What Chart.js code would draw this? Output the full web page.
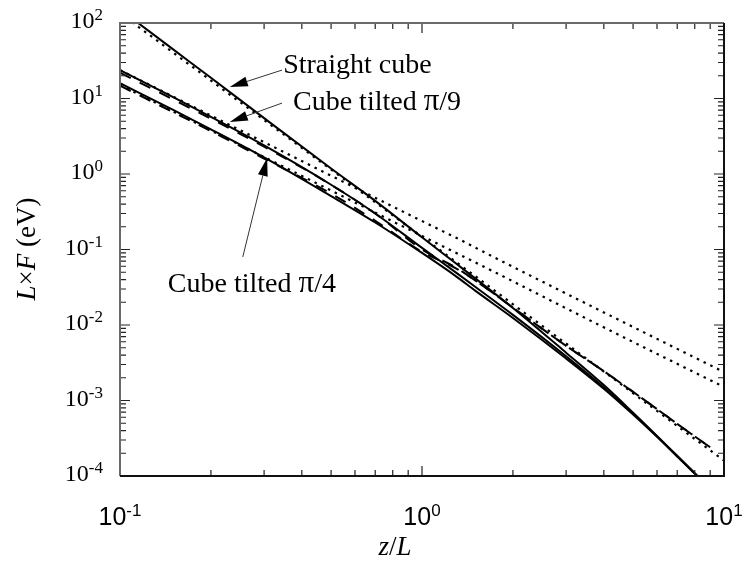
<!DOCTYPE html>
<html>
<head>
<meta charset="utf-8">
<script src="https://cdn.jsdelivr.net/npm/chart.js@4.4.1/dist/chart.umd.min.js"></script>
<style>
  html, body { margin: 0; padding: 0; background: #fff; }
</style>
</head>
<body>
<canvas id="forceChart" width="744" height="570"></canvas>
<script>
// L x F against z/L for a cube above a plate, log-log

// separations z/L for the exact curves
const zExact = [0.1, 0.15, 0.2, 0.3, 0.5, 0.7, 1, 1.3, 1.5, 2, 3, 4, 5, 6, 7, 8, 9];
const straightExact = [152, 44.7, 18.8, 5.5, 1.18, 0.44, 0.145, 0.0646, 0.0415, 0.0168, 4.3e-3, 1.6e-3, 6.9e-4, 3.4e-4, 1.85e-4, 1.09e-4, 6.7e-5];
const tilt9Exact = [23.8, 10.4, 5.71, 2.39, 0.72, 0.30, 0.105, 0.049, 0.0321, 0.0136, 3.85e-3, 1.49e-3, 6.7e-4, 3.35e-4, 1.83e-4, 1.08e-4, 6.7e-5];
const tilt4Exact = [16.0, 7.05, 3.91, 1.66, 0.51, 0.228, 0.090, 0.0438, 0.0285, 0.0124, 3.6e-3, 1.43e-3, 6.5e-4, 3.3e-4, 1.81e-4, 1.07e-4, 6.6e-5];

// dashed curves (tilted cubes)
const zDashed = [0.1, 0.2, 0.3, 0.5, 0.7, 1, 1.3, 1.5, 2, 3, 4, 5, 6, 7, 8, 9];
const tilt9Dashed = [22.0, 5.4, 2.3, 0.72, 0.3, 0.1, 0.057, 0.039, 0.017, 5.3e-3, 2.45e-3, 1.3e-3, 7.7e-4, 4.9e-4, 3.35e-4, 2.4e-4];
const tilt4Dashed = [14.8, 3.7, 1.6, 0.55, 0.24, 0.093, 0.056, 0.039, 0.017, 5.3e-3, 2.45e-3, 1.3e-3, 7.7e-4, 4.9e-4, 3.35e-4, 2.4e-4];

// dotted curves
const zDotted = [0.1, 0.3, 1, 1.34, 1.71, 4.04, 10];
const straightDotted = [135, 5.2, 0.147, 0.062, 0.030, 2.35e-3, 1.6e-4];
const tilt9Dotted = [23.8, 2.64, 0.238, 0.134, 0.081, 0.0144, 2.38e-3];
const tilt4Dotted = [15.1, 1.68, 0.151, 0.0845, 0.052, 9.12e-3, 1.51e-3];

// axis decades
const xDecades = [-1, 0, 1];
const yDecades = [-4, -3, -2, -1, 0, 1, 2];
const minorSteps = [2, 3, 4, 5, 6, 7, 8, 9];

// annotations: text baseline anchor and arrow (tail -> tip), in data units
const notes = [
  { text: ['Straight cube'], at: [0.347, 21.8], tail: [0.344, 23.8], tip: [0.231, 14.2] },
  { text: ['Cube tilted ', 'π', '/9'], at: [0.374, 7.05], tail: [0.344, 8.7], tip: [0.231, 4.89] },
  { text: ['Cube tilted ', 'π', '/4'], at: [0.144, 0.0276], tail: [0.255, 0.0796], tip: [0.307, 1.63] },
];

const SERIF = '"Liberation Serif", "Times New Roman", serif';
const SANS = '"Liberation Sans", Arial, sans-serif';

const pts = (zs, vs) => zs.map((z, i) => ({ x: z, y: vs[i] }));
const curve = (label, zs, vs, dash, width) => ({
  label: label,
  data: pts(zs, vs),
  borderColor: '#000',
  borderWidth: width || 2,
  borderDash: dash,
  pointRadius: 0,
  cubicInterpolationMode: 'monotone',
  fill: false,
  clip: 0,
});

function drawPower(ctx, exp, x, baseline, mainFont, supFont, raise, align) {
  ctx.font = mainFont;
  const w1 = ctx.measureText('10').width;
  ctx.font = supFont;
  const sup = String(exp);
  const w2 = ctx.measureText(sup).width;
  const left = align === 'center' ? x - (w1 + w2) / 2 : x - w1 - w2;
  ctx.textAlign = 'left';
  ctx.textBaseline = 'alphabetic';
  ctx.font = mainFont;
  ctx.fillText('10', left, baseline);
  ctx.font = supFont;
  ctx.fillText(sup, left + w1, baseline - raise);
}

// draws pieces [text, italic?, size] one after another
function drawRun(ctx, parts, x, y, size) {
  let cx = x;
  parts.forEach(p => {
    ctx.font = (p[1] ? 'italic ' : '') + (p[2] || size) + 'px ' + SERIF;
    ctx.fillText(p[0], cx, y);
    cx += ctx.measureText(p[0]).width;
  });
  return cx - x;
}
function runWidth(ctx, parts, size) {
  let w = 0;
  parts.forEach(p => {
    ctx.font = (p[1] ? 'italic ' : '') + (p[2] || size) + 'px ' + SERIF;
    w += ctx.measureText(p[0]).width;
  });
  return w;
}

const framePlugin = {
  id: 'framePlugin',
  afterDatasetsDraw(chart) {
    const { ctx, chartArea: a, scales: { x, y } } = chart;
    ctx.save();
    ctx.strokeStyle = '#222';
    ctx.lineWidth = 1.2;
    ctx.beginPath();
    xDecades.forEach((e, i) => {
      const base = Math.pow(10, e);
      const px = x.getPixelForValue(base);
      ctx.moveTo(px, a.bottom); ctx.lineTo(px, a.bottom - 10);
      ctx.moveTo(px, a.top); ctx.lineTo(px, a.top + 10);
      if (i < xDecades.length - 1) {
        minorSteps.forEach(m => {
          const mx = x.getPixelForValue(m * base);
          ctx.moveTo(mx, a.bottom); ctx.lineTo(mx, a.bottom - 6);
          ctx.moveTo(mx, a.top); ctx.lineTo(mx, a.top + 6);
        });
      }
    });
    yDecades.forEach((e, i) => {
      const base = Math.pow(10, e);
      const py = y.getPixelForValue(base);
      ctx.moveTo(a.left, py); ctx.lineTo(a.left + 10, py);
      ctx.moveTo(a.right, py); ctx.lineTo(a.right - 10, py);
      if (i < yDecades.length - 1) {
        minorSteps.forEach(m => {
          const my = y.getPixelForValue(m * base);
          ctx.moveTo(a.left, my); ctx.lineTo(a.left + 6, my);
          ctx.moveTo(a.right, my); ctx.lineTo(a.right - 6, my);
        });
      }
    });
    ctx.stroke();

    // frame
    ctx.lineWidth = 2;
    ctx.strokeStyle = '#6a6a6a';
    ctx.beginPath();
    ctx.moveTo(a.left, a.bottom); ctx.lineTo(a.left, a.top); ctx.lineTo(a.right, a.top);
    ctx.stroke();
    ctx.strokeStyle = '#111';
    ctx.beginPath();
    ctx.moveTo(a.left, a.bottom); ctx.lineTo(a.right, a.bottom); ctx.lineTo(a.right, a.top);
    ctx.stroke();
    ctx.restore();
  },
  afterDraw(chart) {
    const { ctx, chartArea: a, scales: { x, y } } = chart;
    ctx.save();
    ctx.fillStyle = '#000';

    // tick labels
    xDecades.forEach(e => {
      drawPower(ctx, e, x.getPixelForValue(Math.pow(10, e)), a.bottom + 49,
        '25px ' + SANS, '17px ' + SANS, 9, 'center');
    });
    yDecades.forEach(e => {
      drawPower(ctx, e, a.left - 17, y.getPixelForValue(Math.pow(10, e)) + 5,
        '24px ' + SERIF, '17px ' + SERIF, 8, 'right');
    });

    // axis titles
    ctx.textAlign = 'left';
    ctx.textBaseline = 'middle';
    const xt = [['z', true], ['/', false], ['L', true]];
    const xw = runWidth(ctx, xt, 27);
    drawRun(ctx, xt, (a.left + a.right) / 2 - xw / 2 - 27, 548, 27);

    const yt = [['L', true], ['×', false], ['F', true], [' (eV)', false]];
    const yw = runWidth(ctx, yt, 27);
    ctx.save();
    ctx.translate(28, 249);
    ctx.rotate(-Math.PI / 2);
    drawRun(ctx, yt, -yw / 2, 0, 27);
    ctx.restore();

    // annotations with arrows
    notes.forEach(n => {
      const tx = x.getPixelForValue(n.at[0]);
      const ty = y.getPixelForValue(n.at[1]);
      ctx.textBaseline = 'alphabetic';
      drawRun(ctx, n.text.map(t => [t, false, t === 'π' ? 31 : 28]), tx, ty, 28);

      const x0 = x.getPixelForValue(n.tail[0]), y0 = y.getPixelForValue(n.tail[1]);
      const x1 = x.getPixelForValue(n.tip[0]), y1 = y.getPixelForValue(n.tip[1]);
      const ang = Math.atan2(y1 - y0, x1 - x0);
      const len = 18, half = 5;
      const bx = x1 - len * Math.cos(ang), by = y1 - len * Math.sin(ang);
      ctx.strokeStyle = '#333';
      ctx.lineWidth = 1;
      ctx.beginPath();
      ctx.moveTo(x0, y0); ctx.lineTo(bx, by);
      ctx.stroke();
      ctx.fillStyle = '#000';
      ctx.beginPath();
      ctx.moveTo(x1, y1);
      ctx.lineTo(bx + half * Math.sin(ang), by - half * Math.cos(ang));
      ctx.lineTo(bx - half * Math.sin(ang), by + half * Math.cos(ang));
      ctx.closePath();
      ctx.fill();
    });
    ctx.restore();
  }
};

new Chart(document.getElementById('forceChart'), {
  type: 'line',
  data: {
    datasets: [
      curve('Straight cube', zExact, straightExact, []),
      curve('Cube tilted π/9', zExact, tilt9Exact, []),
      curve('Cube tilted π/4', zExact, tilt4Exact, []),
      curve('Straight cube (dotted)', zDotted, straightDotted, [2.5, 5], 2.2),
      curve('Cube tilted π/9 (dotted)', zDotted, tilt9Dotted, [2.5, 5], 2.2),
      curve('Cube tilted π/4 (dotted)', zDotted, tilt4Dotted, [2.5, 5], 2.2),
      curve('Cube tilted π/9 (dashed)', zDashed, tilt9Dashed, [12, 10]),
      curve('Cube tilted π/4 (dashed)', zDashed, tilt4Dashed, [12, 10]),
    ]
  },
  options: {
    responsive: false,
    animation: false,
    devicePixelRatio: 1,
    layout: { padding: { left: 120, right: 20, top: 23, bottom: 94 } },
    plugins: { legend: { display: false }, tooltip: { enabled: false } },
    scales: {
      x: { type: 'logarithmic', min: 0.1, max: 10, display: false },
      y: { type: 'logarithmic', min: 1e-4, max: 100, display: false }
    }
  },
  plugins: [framePlugin]
});
</script>
</body>
</html>
